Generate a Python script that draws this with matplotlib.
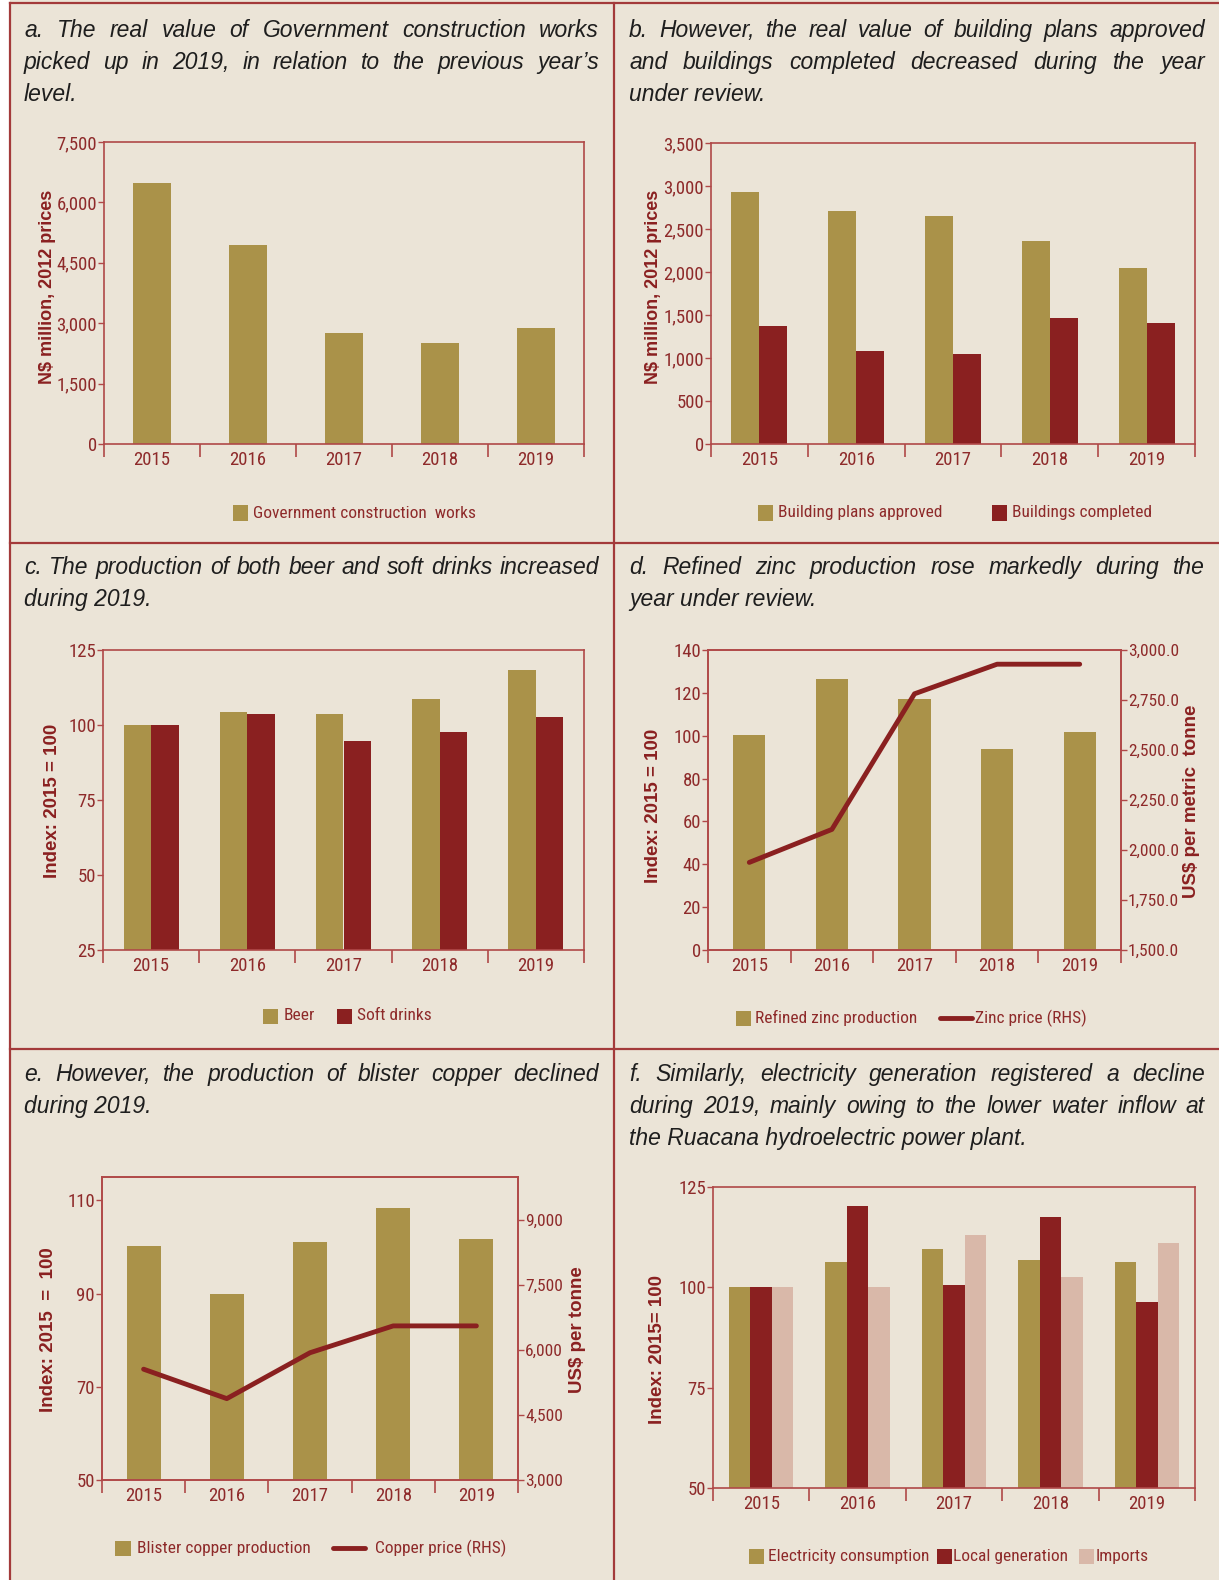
import matplotlib
matplotlib.use("Agg")
import matplotlib.pyplot as plt
from matplotlib.patches import Rectangle
from matplotlib.lines import Line2D
from matplotlib.ticker import FuncFormatter
from matplotlib import font_manager as fm
import numpy as np

W, H = 1219, 1580

# ---- data ----
years = ["2015", "2016", "2017", "2018", "2019"]

gov_works = [6490, 4950, 2760, 2510, 2885]

plans_approved = [2935, 2715, 2647, 2356, 2045]
buildings_completed = [1372, 1084, 1048, 1467, 1407]

beer = [100, 104.5, 103.6, 108.6, 118.5]
soft_drinks = [100, 103.6, 94.7, 97.7, 102.6]

zinc_prod = [100.5, 126.5, 117.2, 94.0, 101.9]
zinc_price = [1938, 2103, 2781, 2929, 2929]

copper_prod = [100.2, 90.0, 101.1, 108.4, 101.7]
copper_price = [5560, 4880, 5940, 6560, 6560]

elec_consumption = [100, 106.2, 109.6, 106.9, 106.2]
local_generation = [100, 120.3, 100.5, 117.6, 96.3]
imports = [100, 100, 113.1, 102.5, 111.1]

# ---- styling ----
BG = "#EBE4D7"
GOLD = "#AA9249"
RED = "#8A2020"
PINK = "#D9B8A9"
AXC = "#B04848"
TXT = "#8E2A2A"
BORDER = "#A33A3A"


def find_narrow():
    # look for any condensed / narrow regular face that is installed
    fonts = fm.fontManager.ttflist
    prefs = ["Liberation Sans Narrow", "DejaVu Sans Condensed", "Roboto Condensed",
             "Open Sans Condensed", "Noto Sans Condensed"]
    for p in prefs:
        for f in fonts:
            if f.name == p and f.style == "normal" and f.weight in (400, "normal", "regular"):
                return f.fname
    for f in fonts:
        if f.style != "normal" or f.weight not in (400, "normal", "regular"):
            continue
        if "Narrow" in f.name or "Condensed" in f.name or f.stretch in ("condensed", "semi-condensed"):
            return f.fname
        if "Condensed" in f.fname or "Narrow" in f.fname:
            return f.fname
    return None


narrow_file = find_narrow()


def narrow(size):
    if narrow_file:
        return fm.FontProperties(fname=narrow_file, size=size)
    return fm.FontProperties(family=["Roboto", "DejaVu Sans"], size=size - 0.5)


TICK_FP = narrow(13.5)
RTICK_FP = narrow(12.5)
LEG_FP = narrow(12.5)
TITLE_FONT = ["Liberation Sans", "DejaVu Sans"]

fig = plt.figure(figsize=(W / 100, H / 100), dpi=100)
fig.patch.set_facecolor("white")


def fx(x):
    return x / W


def fy(y):
    return 1 - y / H


# background and frame lines
fig.patches.append(Rectangle((fx(10), 0), fx(W - 10), 1, transform=fig.transFigure,
                             facecolor=BG, edgecolor="none", zorder=-10))
for seg in [((10, 3), (W, 3)), ((10, 543), (W, 543)), ((10, 1049), (W, 1049)),
            ((10, 3), (10, H)), ((614, 3), (614, H))]:
    (x0, y0), (x1, y1) = seg
    fig.lines.append(Line2D([fx(x0), fx(x1)], [fy(y0), fy(y1)], transform=fig.transFigure,
                            color=BORDER, lw=1.6, zorder=5))

renderer = fig.canvas.get_renderer()


def title(lines, x0, x1, y_first, dy=32, size=16.5):
    kw = dict(style="italic", family=TITLE_FONT, color="#1E1E1E", va="baseline")
    for i, line in enumerate(lines):
        y = fy(y_first + i * dy)
        words = line.split()
        if i == len(lines) - 1 or len(words) == 1:
            fig.text(fx(x0), y, line, fontsize=size, **kw)
            continue
        objs = [fig.text(0, y, w, fontsize=size, **kw) for w in words]
        widths = [o.get_window_extent(renderer).width for o in objs]
        min_gap = 4
        need = sum(widths) + min_gap * (len(words) - 1)
        if need > x1 - x0:
            # too long for the column: shrink this line a little
            scale = (x1 - x0 - min_gap * (len(words) - 1)) / sum(widths)
            for o in objs:
                o.set_fontsize(size * scale)
            widths = [o.get_window_extent(renderer).width for o in objs]
        gap = (x1 - x0 - sum(widths)) / (len(words) - 1)
        x = x0
        for o, w in zip(objs, widths):
            o.set_x(fx(x))
            x += w + gap


def make_ax(left, right, top, bottom):
    ax = fig.add_axes([fx(left), fy(bottom), fx(right - left), (bottom - top) / H])
    ax.set_facecolor("none")
    for s in ax.spines.values():
        s.set_color(AXC)
        s.set_linewidth(1.2)
    ax.set_xlim(-0.5, 4.5)
    ax.set_xticks(range(5))
    ax.set_xticklabels(years)
    ax.set_xticks(np.arange(-0.5, 5, 1), minor=True)
    ax.tick_params(axis="x", which="major", length=0, pad=5, colors=TXT)
    ax.tick_params(axis="x", which="minor", length=9, width=1.2, color=AXC, direction="out")
    ax.tick_params(axis="y", length=4, width=1.0, color=AXC, direction="out", pad=1,
                   labelcolor=TXT)
    return ax


def fix_ticks(ax):
    for lab in ax.get_xticklabels() + ax.get_yticklabels():
        lab.set_fontproperties(TICK_FP)


def style_right(ax2):
    for s in ax2.spines.values():
        s.set_color(AXC)
        s.set_linewidth(1.2)
    ax2.tick_params(axis="y", length=4, width=1.0, color=AXC, direction="out", pad=1,
                    labelcolor=TXT)
    for lab in ax2.get_yticklabels():
        lab.set_fontproperties(RTICK_FP)


def ylabel(text, x, y, size=13.5):
    fig.text(fx(x), fy(y), text, rotation=90, ha="center", va="center", fontsize=size,
             fontweight="bold", color=RED, family=["Liberation Sans", "DejaVu Sans"])


def legend(items, y):
    for kind, x, color, label, tx in items:
        if kind == "box":
            fig.patches.append(Rectangle((fx(x - 7.5), fy(y + 7.5)), fx(15), 15 / H,
                                         transform=fig.transFigure, facecolor=color,
                                         edgecolor="none"))
        else:
            fig.lines.append(Line2D([fx(x[0]), fx(x[1])], [fy(y), fy(y)], transform=fig.transFigure,
                                    color=color, lw=3.5, solid_capstyle="round"))
        fig.text(fx(tx), fy(y), label, ha="left", va="center", color=TXT, fontproperties=LEG_FP)


comma0 = FuncFormatter(lambda v, p: f"{v:,.0f}")
comma1 = FuncFormatter(lambda v, p: f"{v:,.1f}")
x = np.arange(5)

# ---- a ----
title(["a. The real value of Government construction works",
       "picked up in 2019, in relation to the previous year\u2019s",
       "level."], 24, 599, 37)
ax = make_ax(104, 584, 142, 444)
ax.bar(x, gov_works, width=0.40, color=GOLD)
ax.set_ylim(0, 7500)
ax.set_yticks(np.arange(0, 7501, 1500))
ax.yaxis.set_major_formatter(comma0)
fix_ticks(ax)
ylabel("N$ million, 2012 prices", 48, 287, 13)
legend([("box", 240, GOLD, "Government construction  works", 253)], 513)

# ---- b ----
title(["b. However, the real value of building plans approved",
       "and buildings completed decreased during the year",
       "under review."], 629, 1205, 37)
ax = make_ax(711, 1195, 143, 444)
bw = 0.29
ax.bar(x - bw / 2, plans_approved, width=bw, color=GOLD)
ax.bar(x + bw / 2, buildings_completed, width=bw, color=RED)
ax.set_ylim(0, 3500)
ax.set_yticks(np.arange(0, 3501, 500))
ax.yaxis.set_major_formatter(comma0)
fix_ticks(ax)
ylabel("N$ million, 2012 prices", 654, 287, 13)
legend([("box", 765, GOLD, "Building plans approved", 778),
        ("box", 999, RED, "Buildings completed", 1012)], 513)

# ---- c ----
title(["c. The production of both beer and soft drinks increased",
       "during 2019."], 24, 599, 574)
ax = make_ax(103, 584, 650, 950)
bw = 0.285
ax.bar(x - bw / 2, beer, width=bw, color=GOLD)
ax.bar(x + bw / 2, soft_drinks, width=bw, color=RED)
ax.set_ylim(25, 125)
ax.set_yticks(np.arange(25, 126, 25))
fix_ticks(ax)
ylabel("Index: 2015 = 100", 53, 801)
legend([("box", 270, GOLD, "Beer", 284),
        ("box", 344, RED, "Soft drinks", 357)], 1016)

# ---- d ----
title(["d. Refined zinc production rose markedly during the",
       "year under review."], 629, 1205, 574)
ax = make_ax(708, 1121, 650, 950)
ax.bar(x, zinc_prod, width=0.39, color=GOLD)
ax.set_ylim(0, 140)
ax.set_yticks(np.arange(0, 141, 20))
fix_ticks(ax)
ax2 = ax.twinx()
ax2.plot(x, zinc_price, color=RED, lw=3.5, solid_capstyle="round")
ax2.set_ylim(1500, 3000)
ax2.set_yticks(np.arange(1500, 3001, 250))
ax2.yaxis.set_major_formatter(comma1)
style_right(ax2)
ylabel("Index: 2015 = 100", 654, 806)
ylabel("US$ per metric  tonne", 1191, 801)
legend([("box", 743, GOLD, "Refined zinc production", 755),
        ("line", (940, 972), RED, "Zinc price (RHS)", 975)], 1018)

# ---- e ----
title(["e. However, the production of blister copper declined",
       "during 2019."], 24, 599, 1081)
ax = make_ax(102, 518, 1177, 1480)
ax.bar(x, copper_prod, width=0.41, color=GOLD)
ax.set_ylim(50, 115)
ax.set_yticks(np.arange(50, 111, 20))
fix_ticks(ax)
ax2 = ax.twinx()
ax2.plot(x, copper_price, color=RED, lw=3.5, solid_capstyle="round")
ax2.set_ylim(3000, 10000)
ax2.set_yticks(np.arange(3000, 9001, 1500))
ax2.yaxis.set_major_formatter(comma0)
style_right(ax2)
ylabel("Index: 2015  =  100", 49, 1330)
ylabel("US$ per tonne", 578, 1330)
legend([("box", 123, GOLD, "Blister copper production", 137),
        ("line", (333, 365), RED, "Copper price (RHS)", 375)], 1548)

# ---- f ----
title(["f. Similarly, electricity generation registered a decline",
       "during 2019, mainly owing to the lower water inflow at",
       "the Ruacana hydroelectric power plant."], 629, 1205, 1081)
ax = make_ax(713, 1195, 1187, 1488)
bw = 0.223
ax.bar(x - bw, elec_consumption, width=bw, color=GOLD)
ax.bar(x, local_generation, width=bw, color=RED)
ax.bar(x + bw, imports, width=bw, color=PINK)
ax.set_ylim(50, 125)
ax.set_yticks(np.arange(50, 126, 25))
fix_ticks(ax)
ylabel("Index: 2015= 100", 658, 1350)
legend([("box", 756, GOLD, "Electricity consumption", 768),
        ("box", 944, RED, "Local generation", 953),
        ("box", 1086, PINK, "Imports", 1096)], 1556)

fig.savefig("out.png", dpi=100, facecolor=fig.get_facecolor())
